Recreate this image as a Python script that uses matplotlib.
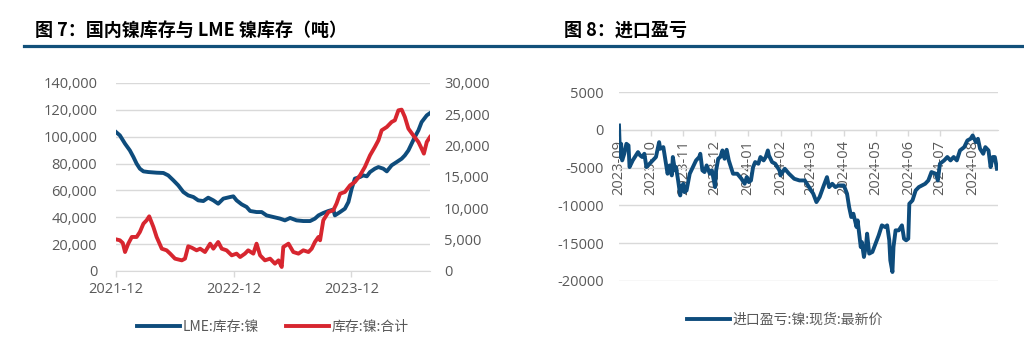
import matplotlib
matplotlib.use("Agg")
import matplotlib.pyplot as plt
import matplotlib.dates as mdates
from matplotlib.lines import Line2D
from matplotlib.ticker import FuncFormatter, MultipleLocator
import pandas as pd

plt.rcParams['font.family'] = ['Open Sans', 'Noto Sans CJK SC', 'DejaVu Sans']
plt.rcParams['axes.unicode_minus'] = False

BLUE = '#0E4C7C'
RED = '#D7262F'
GRID = '#D9D9D9'
TXT = '#595959'
CJK = ['Noto Sans CJK SC', 'DejaVu Sans']

# 图7: LME:库存:镍 (左轴, 吨)
lme_dates = ['2021-12-01', '2021-12-13', '2021-12-29', '2022-01-13', '2022-01-24', '2022-02-03',
             '2022-02-13', '2022-02-24', '2022-03-11', '2022-04-06', '2022-04-27', '2022-05-12',
             '2022-05-28', '2022-06-12', '2022-06-28', '2022-07-13', '2022-07-29', '2022-08-13',
             '2022-08-29', '2022-09-13', '2022-09-29', '2022-10-14', '2022-10-30', '2022-11-20',
             '2022-11-30', '2022-12-10', '2022-12-26', '2023-01-10', '2023-01-21', '2023-02-10',
             '2023-02-26', '2023-03-13', '2023-04-03', '2023-04-24', '2023-05-09', '2023-05-25',
             '2023-06-14', '2023-07-05', '2023-07-26', '2023-08-10', '2023-08-21', '2023-09-05',
             '2023-09-21', '2023-10-06', '2023-10-11', '2023-10-27', '2023-11-11', '2023-11-22',
             '2023-12-02', '2023-12-12', '2023-12-28', '2024-01-07', '2024-01-18', '2024-01-28',
             '2024-02-12', '2024-02-23', '2024-03-09', '2024-03-20', '2024-04-04', '2024-04-20',
             '2024-05-05', '2024-05-15', '2024-05-26', '2024-06-05', '2024-06-15', '2024-06-26',
             '2024-07-06', '2024-07-22', '2024-08-01']
lme_vals = [103500, 101000, 94800, 89800, 84900, 79900,
            76200, 74200, 73700, 73200, 73000, 71200,
            67500, 63800, 58800, 56300, 55100, 52600,
            52100, 54600, 52600, 50100, 53900, 55100,
            55600, 52600, 49600, 47700, 44700, 43900,
            43900, 41400, 40200, 39000, 37700, 39500,
            37700, 37200, 37200, 39000, 41400, 43200,
            44700, 45700, 41400, 43900, 46400, 51400,
            61300, 68800, 70000, 71200, 70500, 73700,
            76200, 77400, 76200, 74200, 78700, 81200,
            83600, 86100, 89800, 94800, 99800, 104700,
            110900, 115900, 117600]

# 图7: 库存:镍:合计 (右轴, 吨)
cn_dates = ['2021-12-01', '2021-12-13', '2021-12-22', '2021-12-29', '2022-01-08', '2022-01-19',
            '2022-02-03', '2022-02-13', '2022-02-24', '2022-03-06', '2022-03-14', '2022-03-27',
            '2022-04-06', '2022-04-22', '2022-05-07', '2022-05-18', '2022-06-02', '2022-06-23',
            '2022-07-03', '2022-07-13', '2022-07-24', '2022-08-08', '2022-08-19', '2022-09-03',
            '2022-09-19', '2022-09-29', '2022-10-14', '2022-10-25', '2022-11-09', '2022-11-25',
            '2022-12-10', '2022-12-21', '2023-01-05', '2023-01-15', '2023-01-31', '2023-02-10',
            '2023-02-21', '2023-03-08', '2023-03-24', '2023-04-08', '2023-04-19', '2023-04-29',
            '2023-05-04', '2023-05-20', '2023-06-04', '2023-06-20', '2023-07-05', '2023-07-21',
            '2023-07-31', '2023-08-10', '2023-08-21', '2023-08-26', '2023-09-05', '2023-09-21',
            '2023-10-06', '2023-10-16', '2023-10-27', '2023-11-11', '2023-11-27', '2023-12-12',
            '2023-12-28', '2024-01-12', '2024-01-28', '2024-02-12', '2024-02-23', '2024-03-04',
            '2024-03-20', '2024-04-04', '2024-04-14', '2024-04-25', '2024-05-05', '2024-05-15',
            '2024-05-26', '2024-06-10', '2024-06-26', '2024-07-06', '2024-07-13', '2024-07-22',
            '2024-08-01']
cn_vals = [5050, 4900, 4470, 3030, 4360, 5430,
           5430, 6220, 7550, 8090, 8720, 7020,
           5430, 3560, 3300, 2770, 1970, 1700,
           1970, 3940, 3720, 3300, 3560, 3030,
           4360, 3560, 4630, 3560, 3300, 2500,
           2770, 2230, 2770, 3300, 2770, 4360,
           2500, 1700, 1970, 1170, 1700, 640,
           3830, 4360, 3030, 2770, 3300, 3030,
           3560, 4630, 5430, 4900, 8090, 9420,
           9680, 10750, 12340, 12610, 13670, 14200,
           15270, 16600, 18460, 19790, 20850, 22450,
           22980, 23780, 24050, 25640, 25750, 24580,
           22720, 21650, 20590, 19520, 18730, 20590,
           21390]

# 图8: 进口盈亏:镍:现货:最新价
pl_dates = ['2023-09-01', '2023-09-02', '2023-09-03', '2023-09-04', '2023-09-06', '2023-09-08',
            '2023-09-10', '2023-09-11', '2023-09-14', '2023-09-16', '2023-09-19', '2023-09-21',
            '2023-09-23', '2023-09-25', '2023-09-27', '2023-09-30', '2023-10-03', '2023-10-06',
            '2023-10-09', '2023-10-10', '2023-10-13', '2023-10-15', '2023-10-17', '2023-10-19',
            '2023-10-21', '2023-10-22', '2023-10-24', '2023-10-25', '2023-10-27', '2023-10-29',
            '2023-10-30', '2023-11-01', '2023-11-02', '2023-11-04', '2023-11-07', '2023-11-10',
            '2023-11-13', '2023-11-16', '2023-11-17', '2023-11-19', '2023-11-21', '2023-11-23',
            '2023-11-26', '2023-11-28', '2023-12-01', '2023-12-02', '2023-12-04', '2023-12-06',
            '2023-12-08', '2023-12-10', '2023-12-12', '2023-12-14', '2023-12-18', '2023-12-22',
            '2023-12-26', '2023-12-29', '2023-12-31', '2024-01-02', '2024-01-04', '2024-01-06',
            '2024-01-08', '2024-01-11', '2024-01-13', '2024-01-16', '2024-01-18', '2024-01-20',
            '2024-01-21', '2024-01-24', '2024-01-27', '2024-01-31', '2024-02-01', '2024-02-05',
            '2024-02-09', '2024-02-14', '2024-02-19', '2024-02-24', '2024-02-27', '2024-03-01',
            '2024-03-03', '2024-03-06', '2024-03-09', '2024-03-13', '2024-03-16', '2024-03-18',
            '2024-03-21', '2024-03-24', '2024-03-27', '2024-04-01', '2024-04-04', '2024-04-06',
            '2024-04-08', '2024-04-10', '2024-04-13', '2024-04-14', '2024-04-17', '2024-04-18',
            '2024-04-20', '2024-04-22', '2024-04-23', '2024-04-25', '2024-04-28', '2024-05-01',
            '2024-05-04', '2024-05-07', '2024-05-10', '2024-05-12', '2024-05-14', '2024-05-15',
            '2024-05-17', '2024-05-18', '2024-05-20', '2024-05-23', '2024-05-26', '2024-05-28',
            '2024-05-30', '2024-06-01', '2024-06-02', '2024-06-05', '2024-06-08', '2024-06-11',
            '2024-06-14', '2024-06-17', '2024-06-20', '2024-06-23', '2024-06-27', '2024-06-29',
            '2024-07-01', '2024-07-05', '2024-07-08', '2024-07-11', '2024-07-14', '2024-07-17',
            '2024-07-20', '2024-07-24', '2024-07-27', '2024-07-30', '2024-08-01', '2024-08-04',
            '2024-08-06', '2024-08-08', '2024-08-11', '2024-08-13', '2024-08-16', '2024-08-18',
            '2024-08-20', '2024-08-22', '2024-08-24']
pl_vals = [570, -3600, -1850, -4050, -3170, -1850,
           -2070, -4930, -4050, -3600, -2950, -3390,
           -3600, -3170, -4930, -4490, -4050, -3600,
           -1630, -2510, -2290, -4050, -5810, -4710,
           -6030, -3600, -5370, -4930, -6700, -8680,
           -7580, -7140, -8240, -8020, -5810, -4930,
           -4050, -3600, -3170, -5370, -5590, -4710,
           -5810, -5370, -7580, -5370, -3830, -3600,
           -2730, -3830, -2640, -4050, -5810, -5810,
           -6480, -7140, -6260, -6920, -6700, -4930,
           -4270, -4490, -3600, -4050, -3600, -2730,
           -3390, -4270, -4490, -5370, -6030, -5150,
           -5810, -6480, -6700, -6700, -7360, -8020,
           -8460, -9560, -8900, -7360, -6260, -7580,
           -7140, -7580, -7360, -7360, -8460, -10230,
           -11540, -11100, -12860, -11980, -15500, -14840,
           -16820, -15280, -13740, -16380, -16160, -15060,
           -13960, -12640, -12860, -12640, -14620, -17270,
           -18810, -15500, -13300, -13300, -12640, -14400,
           -14620, -14400, -9780, -9340, -8020, -7580,
           -7360, -7140, -6700, -5590, -5810, -6700,
           -4490, -4050, -3600, -4050, -3600, -4050,
           -2730, -2290, -1410, -1190, -750, -1630,
           -1190, -2510, -3170, -2290, -2730, -4930,
           -3600, -3600, -5150]

fig = plt.figure(figsize=(10.24, 3.6), dpi=100)

# titles and blue rule
fig.text(35 / 1024, 1 - 30 / 360, '图 7：国内镍库存与 LME 镍库存（吨）', family=CJK,
         fontsize=13, fontweight='bold', va='center', ha='left', color='black')
fig.text(564 / 1024, 1 - 30 / 360, '图 8：进口盈亏', family=CJK,
         fontsize=13, fontweight='bold', va='center', ha='left', color='black')
fig.add_artist(Line2D([24 / 1024, 1.0], [1 - 46 / 360, 1 - 46 / 360],
                      transform=fig.transFigure, color='#12507A', lw=2.3))

# ---- 图7 ----
ax = fig.add_axes([116 / 1024, (360 - 271) / 360, 314 / 1024, 188 / 360])
ax2 = ax.twinx()
l1, = ax.plot(pd.to_datetime(lme_dates), lme_vals, color=BLUE, lw=2.8, zorder=3)
l2, = ax2.plot(pd.to_datetime(cn_dates), cn_vals, color=RED, lw=2.8, zorder=3)

ax.set_ylim(0, 140000)
ax2.set_ylim(0, 30000)
ax.yaxis.set_major_locator(MultipleLocator(20000))
ax2.yaxis.set_major_locator(MultipleLocator(5000))
fmt = FuncFormatter(lambda v, p: f'{v:,.0f}')
ax.yaxis.set_major_formatter(fmt)
ax2.yaxis.set_major_formatter(fmt)
ax.set_xlim(pd.Timestamp('2021-12-01'), pd.Timestamp('2024-08-01'))
ax.set_xticks(pd.to_datetime(['2021-12-01', '2022-12-01', '2023-12-01']))
ax.xaxis.set_major_formatter(mdates.DateFormatter('%Y-%m'))
ax.grid(axis='y', color=GRID, lw=1)
ax.set_axisbelow(True)
for a in (ax, ax2):
    for s in ('top', 'left', 'right'):
        a.spines[s].set_visible(False)
    a.spines['bottom'].set_color(GRID)
ax2.spines['bottom'].set_visible(False)
ax.tick_params(axis='y', length=0, pad=13.5, labelsize=10.5, labelcolor=TXT)
ax2.tick_params(axis='y', length=0, pad=10, labelsize=10.5, labelcolor=TXT)
ax.tick_params(axis='x', length=4, width=1, color=GRID, pad=4, labelsize=10.5, labelcolor=TXT)

fig.legend([l1, l2], ['LME:库存:镍', '库存:镍:合计'], loc='center left',
           bbox_to_anchor=(137 / 1024, 1 - 327 / 360), ncol=2, frameon=False,
           prop={'family': CJK, 'size': 10}, labelcolor=TXT, handlelength=3.1,
           handletextpad=0.15, columnspacing=2.0, borderpad=0, borderaxespad=0)

# ---- 图8 ----
bx = fig.add_axes([619 / 1024, (360 - 281) / 360, 379 / 1024, 189 / 360])
l3, = bx.plot(pd.to_datetime(pl_dates), pl_vals, color=BLUE, lw=2.8, zorder=3)
bx.set_ylim(-20000, 5000)
bx.yaxis.set_major_locator(MultipleLocator(5000))
bx.yaxis.set_major_formatter(FuncFormatter(lambda v, p: f'{v:.0f}'))
bx.set_xlim(pd.Timestamp('2023-09-01'), pd.Timestamp('2024-08-25'))
bx.xaxis.set_major_locator(mdates.MonthLocator())
bx.xaxis.set_major_formatter(mdates.DateFormatter('%Y-%m'))
bx.grid(axis='y', color=GRID, lw=1)
bx.set_axisbelow(True)
for s in ('top', 'left', 'right'):
    bx.spines[s].set_visible(False)
bx.spines['bottom'].set_position(('data', 0))
bx.spines['bottom'].set_color(GRID)
bx.tick_params(axis='y', length=0, pad=11, labelsize=10.5, labelcolor=TXT)
bx.tick_params(axis='x', length=4, width=1, color=GRID, pad=3, labelsize=10.5,
               labelcolor=TXT, labelrotation=90)

fig.legend([l3], ['进口盈亏:镍:现货:最新价'], loc='center left',
           bbox_to_anchor=(687 / 1024, 1 - 320 / 360), frameon=False,
           prop={'family': CJK, 'size': 10}, labelcolor=TXT, handlelength=3.1,
           handletextpad=0.15, borderpad=0, borderaxespad=0)

fig.savefig('out.png', dpi=100)
